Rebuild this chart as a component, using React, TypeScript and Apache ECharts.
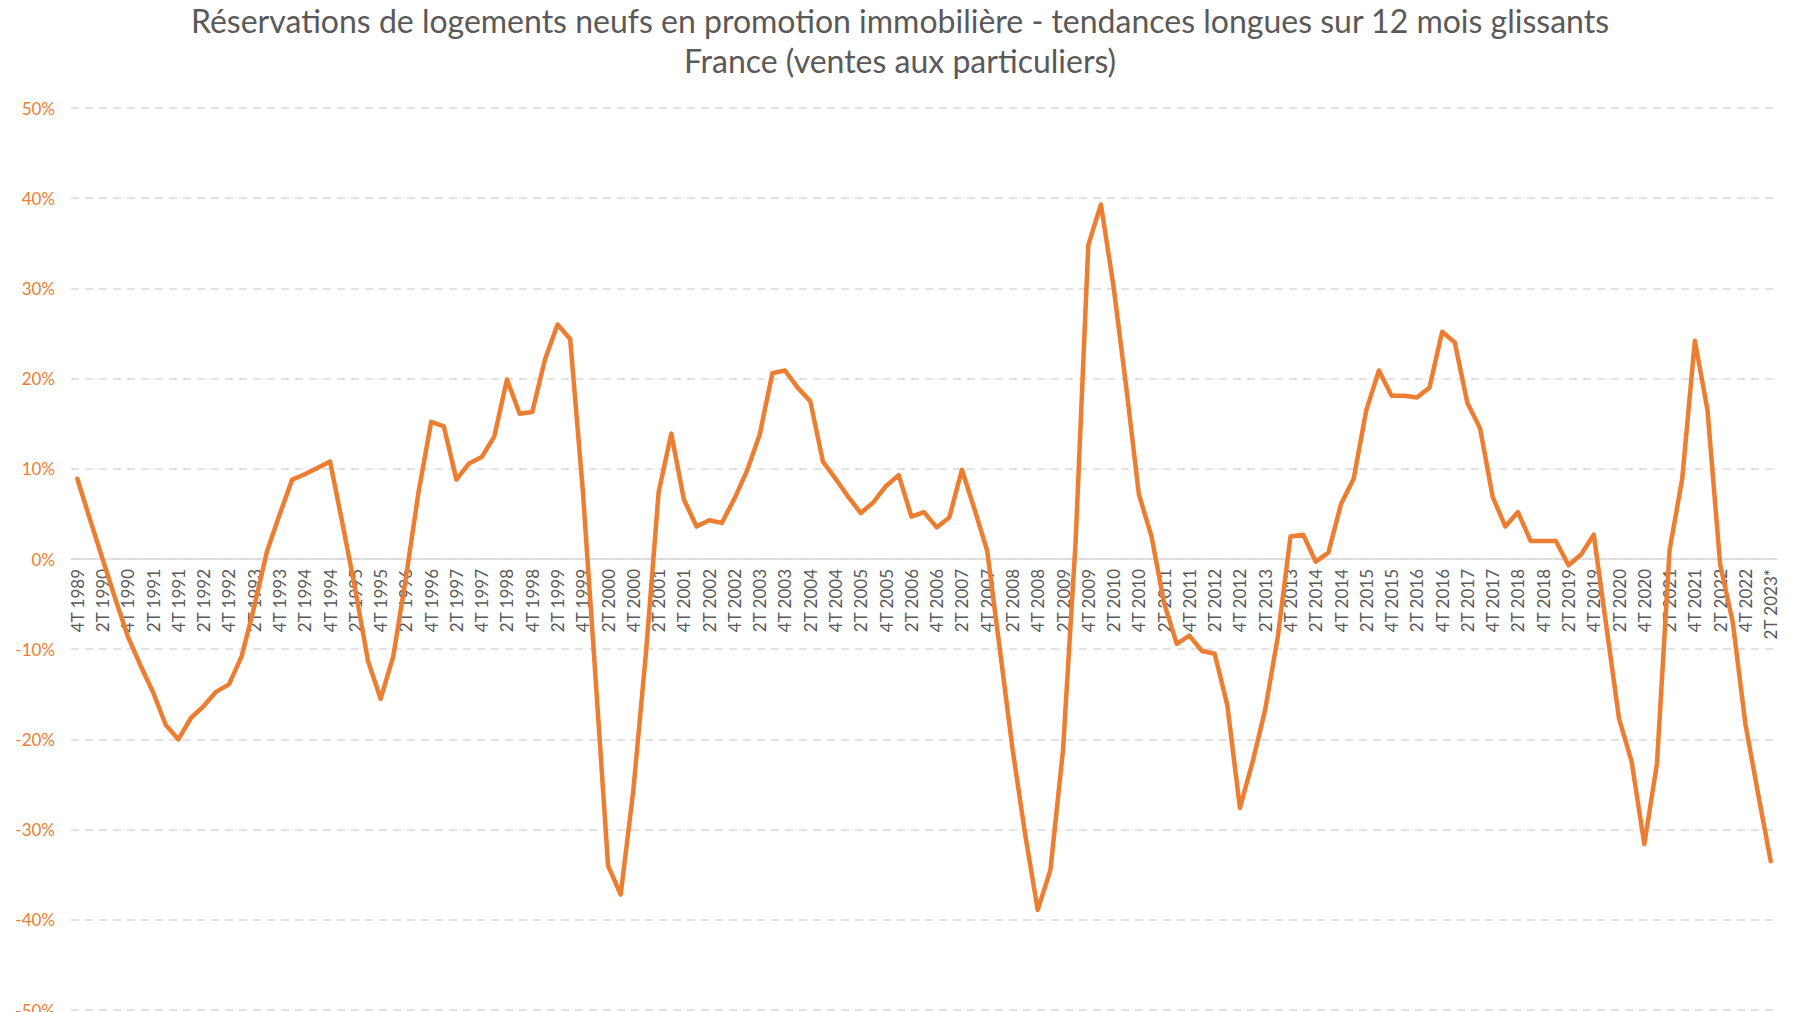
import React, { useEffect, useRef } from "react";
import * as echarts from "echarts";

const TITLE_LINE_1 =
  "Réservations de logements neufs en promotion immobilière - tendances longues sur 12 mois glissants";
const TITLE_LINE_2 = "France (ventes aux particuliers)";

// Quarterly categories from 4T 1989 to 2T 2023*
const START_YEAR = 1989;
const START_QUARTER = 4;
const END_YEAR = 2023;
const END_QUARTER = 2;

const quarters: string[] = [];
for (let y = START_YEAR; y <= END_YEAR; y++) {
  for (let q = 1; q <= 4; q++) {
    if (y === START_YEAR && q < START_QUARTER) continue;
    if (y === END_YEAR && q > END_QUARTER) continue;
    quarters.push(`${q}T ${y}`);
  }
}
quarters[quarters.length - 1] = quarters[quarters.length - 1] + "*";

// Year-on-year change (12-month rolling), in %
const trend1989to1999: number[] = [
  8.9, 4.4, 0.0, -4.4, -8.6, -11.8, -14.8, -18.4, -20.0, -17.6, -16.3, -14.7,
  -13.9, -10.8, -5.3, 0.8, 4.9, 8.8, 9.4, 10.1, 10.8, 3.8, -3.4, -11.3, -15.5,
  -10.8, -2.1, 7.4, 15.2, 14.7, 8.8, 10.6, 11.3, 13.6, 19.9, 16.1, 16.3, 22.1,
  26.0, 24.4, 7.6,
];
const trend2000to2009: number[] = [
  -13.0, -34.0, -37.2, -25.6, -10.4, 7.4, 13.9, 6.6, 3.6, 4.3, 4.0, 6.7, 9.8,
  13.8, 20.6, 20.9, 19.0, 17.5, 10.8, 8.9, 6.9, 5.1, 6.3, 8.1, 9.3, 4.7, 5.2,
  3.5, 4.6, 9.9, 5.5, 0.9, -10.0, -21.0, -30.5, -38.9, -34.5, -21.2, 2.0, 34.8,
];
const trend2010to2019: number[] = [
  39.3, 30.2, 19.1, 7.2, 2.5, -4.9, -9.4, -8.5, -10.2, -10.5, -16.2, -27.6,
  -22.5, -16.7, -8.6, 2.5, 2.7, -0.3, 0.7, 6.1, 8.9, 16.5, 20.9, 18.1, 18.1,
  17.9, 19.0, 25.2, 24.0, 17.3, 14.5, 6.9, 3.6, 5.2, 2.0, 2.0, 2.0, -0.7, 0.5,
  2.7,
];
const trend2020to2023: number[] = [
  -7.5, -17.7, -22.5, -31.6, -22.7, 1.0, 8.9, 24.2, 16.5, -0.6, -7.0, -18.3,
  -26.0, -33.5,
];
const trendValues: number[] = [
  ...trend1989to1999,
  ...trend2000to2009,
  ...trend2010to2019,
  ...trend2020to2023,
];

const Y_MIN = -50;
const Y_MAX = 50;
const Y_STEP = 10;

const FONT = "Lato";
const ORANGE = "#ED7D31";
const GREY_TEXT = "#595959";
const GRID_GREY = "#D9D9D9";

const GRID_TOP = 108;
const GRID_BOTTOM = 2;
const CHART_H = 1012;
// distance from the grid's bottom edge up to the zero line
const ZERO_OFFSET =
  ((CHART_H - GRID_TOP - GRID_BOTTOM) * (0 - Y_MIN)) / (Y_MAX - Y_MIN);

export default function App() {
  const ref = useRef<HTMLDivElement>(null);

  useEffect(() => {
    document.body.style.margin = "0";
    if (!ref.current) return;
    const chart = echarts.init(ref.current, undefined, { renderer: "svg" });
    const titleStyle = {
      fontFamily: FONT,
      fontSize: 32,
      fontWeight: "normal",
      color: GREY_TEXT,
    };
    chart.setOption({
      animation: false,
      backgroundColor: "#ffffff",
      textStyle: { fontFamily: FONT },
      title: [
        { text: TITLE_LINE_1, left: "center", top: 4, padding: 0, textStyle: titleStyle },
        { text: TITLE_LINE_2, left: "center", top: 44, padding: 0, textStyle: titleStyle },
      ],
      grid: {
        left: 71,
        right: 23,
        top: GRID_TOP,
        bottom: GRID_BOTTOM,
        containLabel: false,
        outerBoundsMode: "none",
      },
      xAxis: {
        type: "category",
        data: quarters,
        boundaryGap: true,
        position: "bottom",
        offset: -ZERO_OFFSET,
        axisLine: {
          onZero: false,
          lineStyle: { color: GRID_GREY, width: 1.5 },
        },
        axisTick: { show: false },
        axisLabel: {
          interval: 1,
          rotate: 90,
          margin: 10,
          color: GREY_TEXT,
          fontFamily: FONT,
          fontSize: 17,
        },
        splitLine: { show: false },
      },
      yAxis: {
        type: "value",
        min: Y_MIN,
        max: Y_MAX,
        interval: Y_STEP,
        axisLine: { show: false },
        axisTick: { show: false },
        axisLabel: {
          formatter: (v: number) => `${v}%`,
          color: ORANGE,
          fontFamily: FONT,
          fontSize: 17,
          margin: 16,
        },
        splitLine: {
          show: true,
          lineStyle: { color: GRID_GREY, type: [8, 6], width: 1.5 },
        },
      },
      series: [
        {
          type: "line",
          data: trendValues,
          showSymbol: false,
          symbol: "none",
          smooth: false,
          z: 5,
          lineStyle: { color: ORANGE, width: 4.5, cap: "round", join: "round" },
          itemStyle: { color: ORANGE },
        },
      ],
    });
    return () => chart.dispose();
  }, []);

  return (
    <div
      ref={ref}
      style={{ position: "fixed", left: 0, top: 0, width: 1800, height: CHART_H }}
    />
  );
}
